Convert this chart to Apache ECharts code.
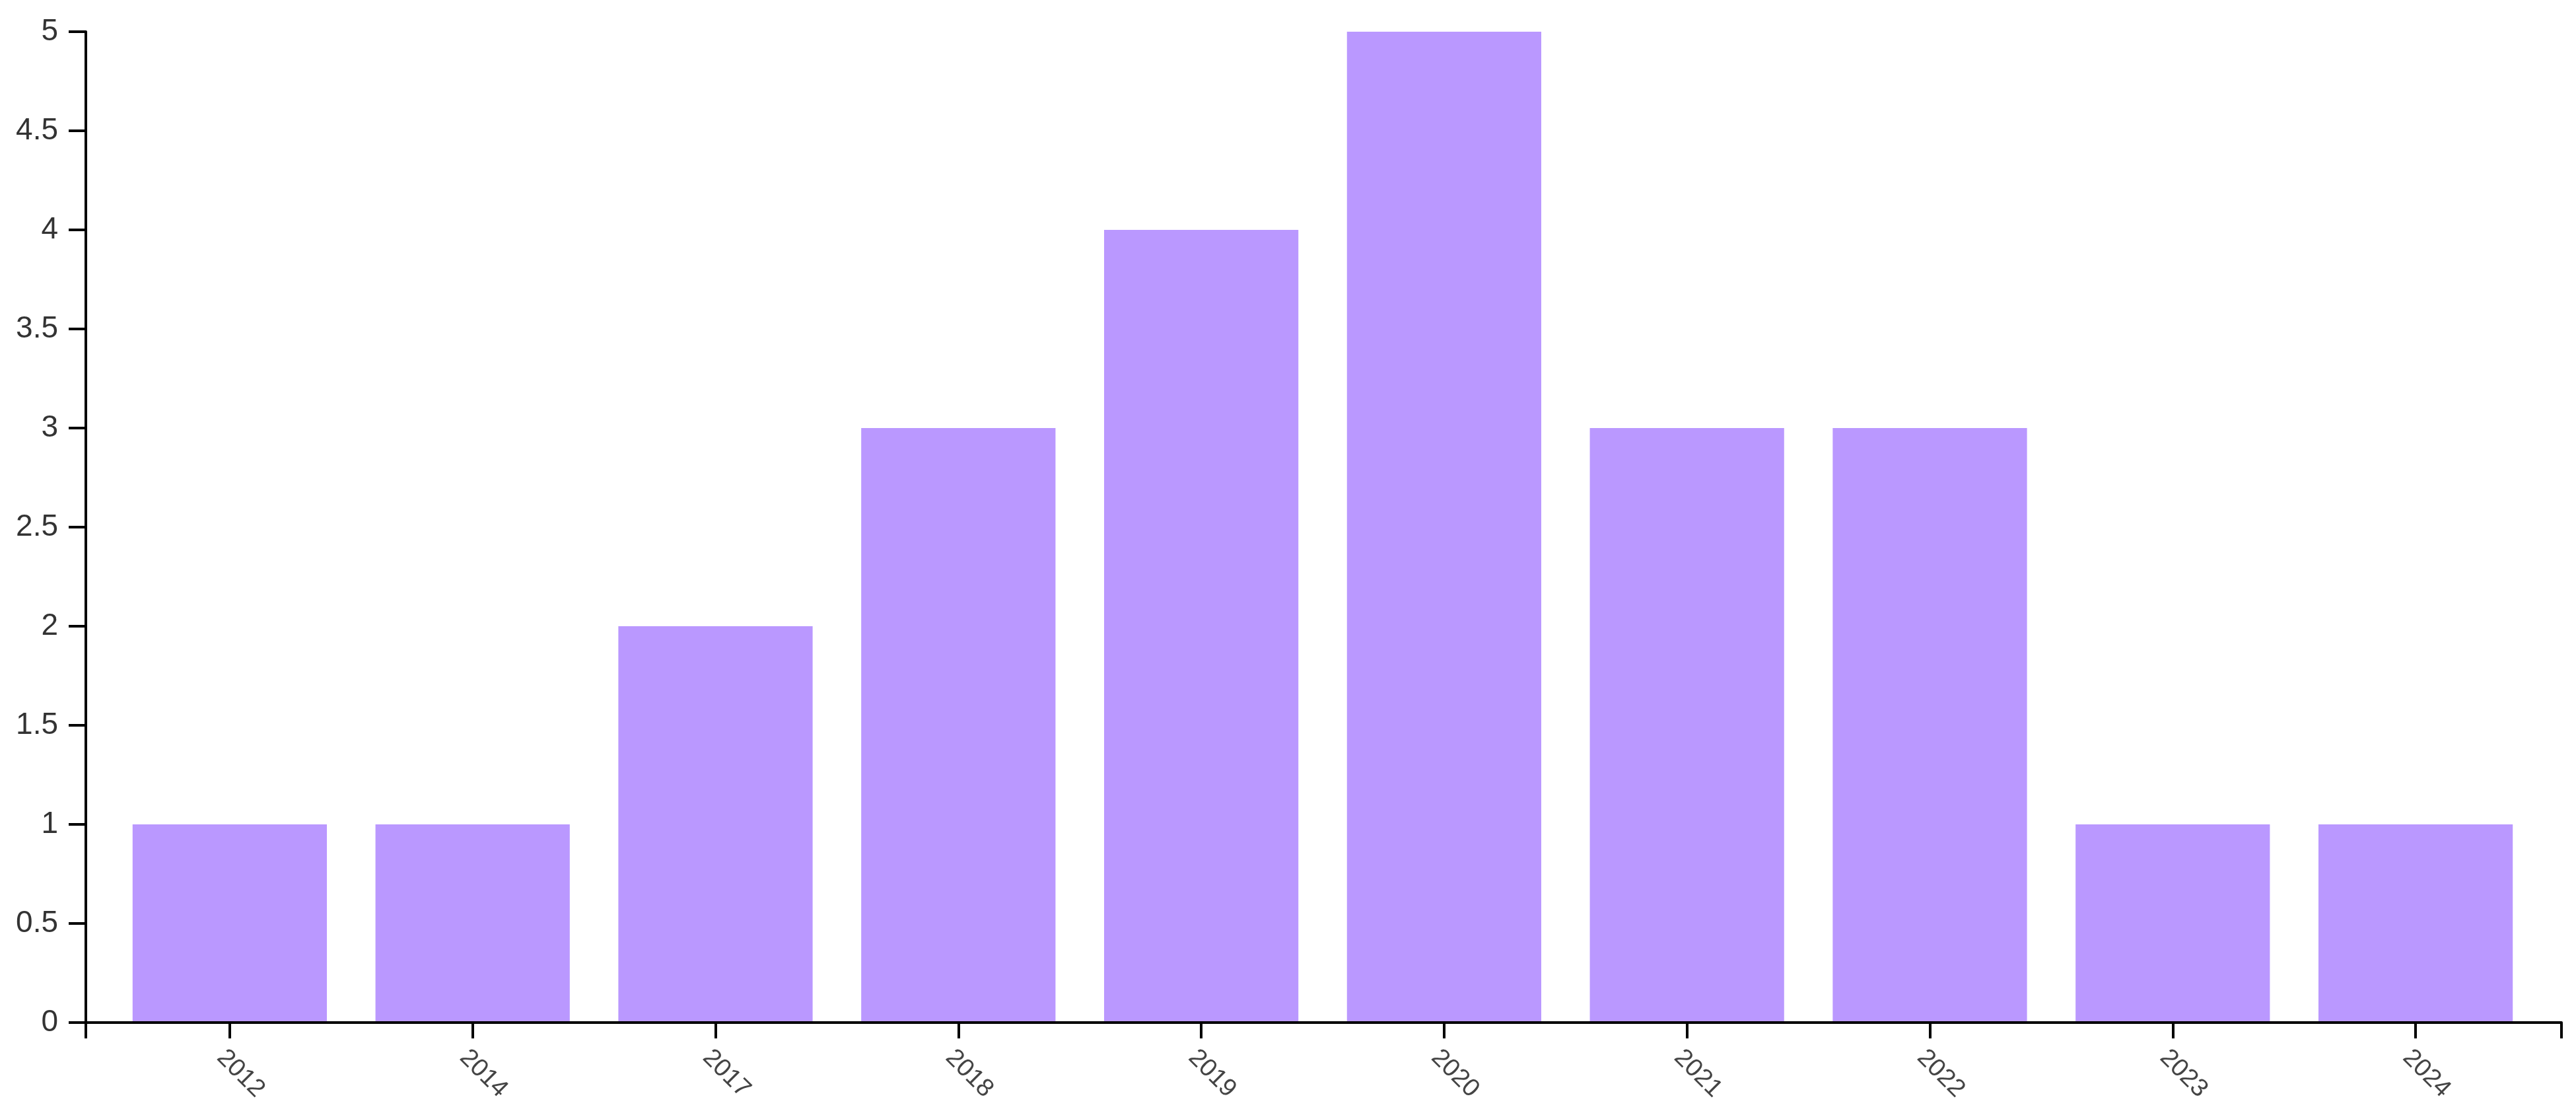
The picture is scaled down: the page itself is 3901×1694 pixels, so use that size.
<!DOCTYPE html>
<html>
<head>
<meta charset="utf-8">
<script src="https://cdn.jsdelivr.net/npm/echarts@6/dist/echarts.min.js"></script>
<style>
    html, body { margin: 0; padding: 0; background: #fff; }
    #chart { width: 3901px; height: 1694px; }
</style>
</head>
<body>
<div id="chart"></div>
<script>
    // data
    var years = ['2012', '2014', '2017', '2018', '2019', '2020', '2021', '2022', '2023', '2024'];
    var counts = [1, 1, 2, 3, 4, 5, 3, 3, 1, 1];
    var yTicks = [0, 0.5, 1, 1.5, 2, 2.5, 3, 3.5, 4, 4.5, 5];

    var font = "'Liberation Sans', Arial, sans-serif";
    var myChart = echarts.init(document.getElementById('chart'));

    var option = {
        backgroundColor: '#fff',
        animation: false,
        // grid 0 carries the axis frame, grid 1 the padded bands for the bars
        grid: [
            { left: 130, right: 22, top: 48, bottom: 146 },
            { left: 164, right: 59, top: 48, bottom: 146 }
        ],
        xAxis: [
            {
                gridIndex: 0,
                type: 'value',
                min: 0,
                max: 1,
                interval: 1,
                z: 5,
                axisLine: { show: true, lineStyle: { color: '#000', width: 4 } },
                axisTick: { show: true, length: 24, lineStyle: { color: '#000', width: 4 } },
                axisLabel: { show: false },
                splitLine: { show: false }
            },
            {
                gridIndex: 1,
                type: 'category',
                data: years,
                axisLine: { show: false },
                axisTick: { show: true, alignWithLabel: true, length: 24, lineStyle: { color: '#000', width: 4 } },
                axisLabel: {
                    rotate: -45,
                    align: 'left',
                    verticalAlign: 'top',
                    margin: 34,
                    fontSize: 38,
                    fontFamily: font,
                    color: '#444'
                },
                splitLine: { show: false }
            }
        ],
        yAxis: [
            {
                gridIndex: 0,
                type: 'value',
                min: yTicks[0],
                max: yTicks[yTicks.length - 1],
                interval: 0.5,
                axisLine: { show: true, lineStyle: { color: '#000', width: 4 } },
                axisTick: { show: true, length: 26, lineStyle: { color: '#000', width: 4 } },
                axisLabel: { margin: 42, fontSize: 46, fontFamily: font, color: '#333' },
                splitLine: { show: false }
            },
            {
                gridIndex: 1,
                type: 'value',
                min: yTicks[0],
                max: yTicks[yTicks.length - 1],
                show: false
            }
        ],
        series: [
            {
                type: 'bar',
                xAxisIndex: 1,
                yAxisIndex: 1,
                data: counts,
                barWidth: '80%',
                itemStyle: { color: '#ba98ff' }
            }
        ]
    };

    myChart.setOption(option);
</script>
</body>
</html>
